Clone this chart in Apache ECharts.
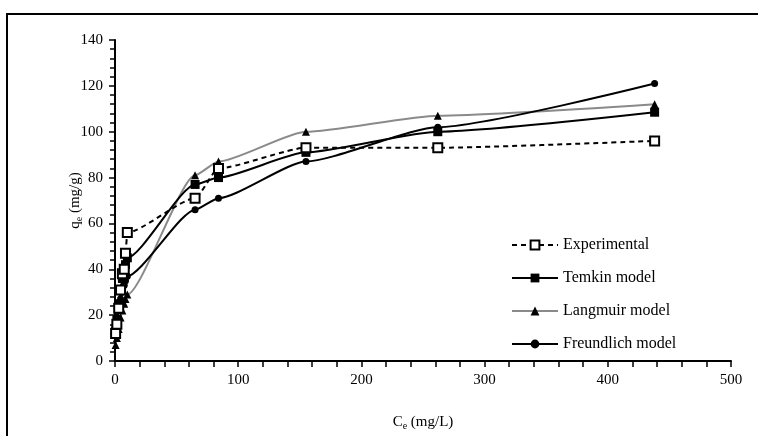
<!DOCTYPE html>
<html>
<head>
<meta charset="utf-8">
<script src="https://cdn.jsdelivr.net/npm/echarts@6/dist/echarts.min.js"></script>
<style>
  html, body { margin: 0; padding: 0; background: #fff; }
  #chart { width: 758px; height: 436px; }
</style>
</head>
<body>
<div id="chart"></div>
<script>
// Ce (mg/L) values
const ce = [0.5, 1.5, 3, 4.5, 6, 7.5, 8.5, 10, 65, 84, 155, 262, 438]
// qe (mg/g) for each series
const experimental = [12, 16, 23, 31, 38, 40, 47, 56, 71, 84, 93, 93, 96]
const temkin = [13, 18, 25, 31, 36, 39, 42, 45, 77, 80, 91, 100, 108.5]
const langmuir = [7, 10, 14, 19, 22, 25, 27, 29, 81, 87, 100, 107, 112]
const freundlich = [16, 19, 24, 27, 30, 33, 35, 37, 66, 71, 87, 102, 121]

const pairs = (ys) => ce.map((x, i) => [x, ys[i]])

const font = 'Liberation Serif'

const myChart = echarts.init(document.getElementById('chart'))

const option = {
    backgroundColor: '#fff',
    animation: false,
    textStyle: { fontFamily: font },
    graphic: [{
        type: 'rect',
        shape: { x: 7, y: 14, width: 752, height: 440 },
        style: { fill: 'none', stroke: '#000', lineWidth: 2 },
        silent: true
    }],
    grid: {
        left: 115,
        right: 27,
        top: 40,
        bottom: 70
    },
    legend: {
        orient: 'vertical',
        left: 506,
        top: 232,
        itemWidth: 46,
        itemHeight: 11,
        itemGap: 17,
        textStyle: { fontFamily: font, fontSize: 16, color: '#000' },
        data: ['Experimental', 'Temkin model', 'Langmuir model', 'Freundlich model']
    },
    xAxis: {
        type: 'value',
        min: 0,
        max: 500,
        interval: 100,
        name: '{a|C}{b|e}{a| (mg/L)}',
        nameLocation: 'middle',
        nameGap: 52,
        nameTextStyle: {
            rich: {
                a: { fontFamily: font, fontSize: 15, color: '#000' },
                b: { fontFamily: font, fontSize: 10, color: '#000', verticalAlign: 'bottom', padding: [8, 0, 0, 0] }
            }
        },
        axisLine: { lineStyle: { color: '#000', width: 2 } },
        axisTick: { show: true, length: 6, lineStyle: { color: '#000', width: 1.5 } },
        minorTick: { show: true, splitNumber: 5, length: 6, lineStyle: { color: '#000', width: 1.5 } },
        axisLabel: { color: '#000', fontFamily: font, fontSize: 15, margin: 12 },
        splitLine: { show: false }
    },
    yAxis: {
        type: 'value',
        min: 0,
        max: 140,
        interval: 20,
        name: '{a|q}{b|e}{a| (mg/g)}',
        nameLocation: 'middle',
        nameGap: 31,
        nameMoveOverlap: false,
        nameRotate: 90,
        nameTextStyle: {
            rich: {
                a: { fontFamily: font, fontSize: 15, color: '#000' },
                b: { fontFamily: font, fontSize: 10, color: '#000', verticalAlign: 'bottom', padding: [8, 0, 0, 0] }
            }
        },
        axisLine: { show: true, lineStyle: { color: '#000', width: 2 } },
        axisTick: { show: true, length: 6, lineStyle: { color: '#000', width: 1.5 } },
        minorTick: { show: true, splitNumber: 5, length: 5, lineStyle: { color: '#000', width: 1.5 } },
        axisLabel: { color: '#000', fontFamily: font, fontSize: 15, margin: 12 },
        splitLine: { show: false }
    },
    series: [
        {
            name: 'Experimental',
            type: 'line',
            data: pairs(experimental),
            smooth: 0.2,
            smoothMonotone: 'x',
            symbol: 'rect',
            symbolSize: 9,
            itemStyle: { color: '#fff', borderColor: '#000', borderWidth: 2 },
            lineStyle: { color: '#000', width: 2, type: [5, 4] },
            z: 5
        },
        {
            name: 'Temkin model',
            type: 'line',
            data: pairs(temkin),
            smooth: 0.2,
            smoothMonotone: 'x',
            symbol: 'rect',
            symbolSize: 9,
            itemStyle: { color: '#000' },
            lineStyle: { color: '#000', width: 2 },
            z: 4
        },
        {
            name: 'Langmuir model',
            type: 'line',
            data: pairs(langmuir),
            smooth: 0.2,
            smoothMonotone: 'x',
            symbol: 'triangle',
            symbolSize: 8,
            itemStyle: { color: '#000' },
            lineStyle: { color: '#8a8a8a', width: 2 },
            z: 3
        },
        {
            name: 'Freundlich model',
            type: 'line',
            data: pairs(freundlich),
            smooth: 0.2,
            smoothMonotone: 'x',
            symbol: 'circle',
            symbolSize: 7,
            itemStyle: { color: '#000' },
            lineStyle: { color: '#000', width: 2 },
            z: 4
        }
    ]
}

myChart.setOption(option)
</script>
</body>
</html>
